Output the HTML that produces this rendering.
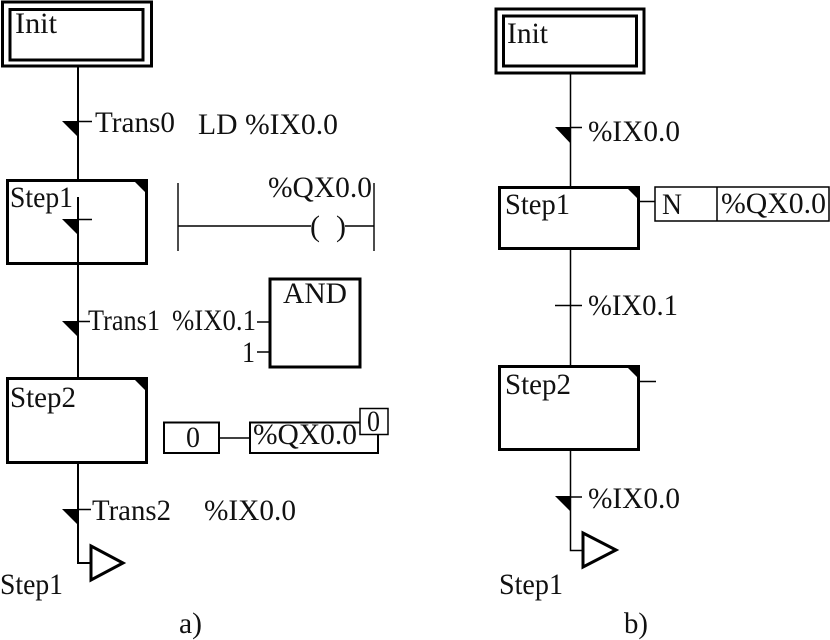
<!DOCTYPE html>
<html><head><meta charset="utf-8"><style>
html,body{margin:0;padding:0;background:#fff;width:830px;height:640px;overflow:hidden}
svg{display:block}
text{font-family:"Liberation Serif",serif;font-size:30px;fill:#111}
</style></head><body>
<svg width="830" height="640" viewBox="0 0 830 640" xmlns="http://www.w3.org/2000/svg">
<rect width="830" height="640" fill="#fff"/>
<g fill="none" stroke="#000">
<!-- LEFT -->
<rect x="2.5" y="2" width="149" height="64" stroke-width="3"/>
<rect x="10" y="9.5" width="133" height="50.5" stroke-width="3"/>
<path d="M78 67V180M78 197V378M78 462V563H91" stroke-width="2"/>
<path d="M78 121.500H92M78 219.500H92M78 321.500H90M78 509.500H91" stroke-width="1.500"/>
<rect x="7.500" y="180.500" width="139" height="83" stroke-width="3"/>
<rect x="7.500" y="378.500" width="139" height="84" stroke-width="3"/>
<path d="M178 183V251M374 183V251M178 226H311M345 226H374" stroke-width="1.400"/>
<rect x="270" y="279" width="90" height="88" stroke-width="3"/>
<path d="M257 322H270M257 352H270" stroke-width="1.500"/>
<rect x="164" y="422.500" width="55" height="30.500" stroke-width="2"/>
<path d="M219 438H250" stroke-width="1.500"/>
<rect x="250" y="422.500" width="128" height="30.500" stroke-width="2"/>
<rect x="360" y="408.500" width="28" height="26" fill="#fff" stroke-width="1.500"/>
<path d="M91 546L123 563L91 580Z" fill="#fff" stroke-width="3"/>
<!-- RIGHT -->
<rect x="496" y="9" width="148" height="64" stroke-width="3"/>
<rect x="503.500" y="16" width="133" height="50" stroke-width="3"/>
<path d="M570.500 73V187M570.500 248V366M570.500 450V550.500H583" stroke-width="1.500"/>
<path d="M570 127.500H582M555 305.500H582M570 497H582M639 201.500H655M639 381.500H656" stroke-width="1.500"/>
<rect x="499.500" y="187.500" width="139" height="61" stroke-width="3"/>
<rect x="499.500" y="366.500" width="139" height="83" stroke-width="3"/>
<rect x="655" y="187" width="174" height="34" stroke-width="1.500"/>
<path d="M717 187V221" stroke-width="1.500"/>
<path d="M583 533L616 550L583 567Z" fill="#fff" stroke-width="3"/>
</g>
<g fill="#000">
<path d="M62 121L78 121L78 137Z"/>
<path d="M62 219L78 219L78 235Z"/>
<path d="M62 321L78 321L78 337Z"/>
<path d="M62 509L78 509L78 525Z"/>
<path d="M133 180L148 180L148 195Z"/>
<path d="M133 378L148 378L148 393Z"/>
<path d="M555 127L571 127L571 144Z"/>
<path d="M555 496L571 496L571 512Z"/>
<path d="M625 186L640 186L640 201Z"/>
<path d="M625 365L640 365L640 380Z"/>
</g>
<g>
<text x="15" y="33" textLength="42" lengthAdjust="spacingAndGlyphs">Init</text>
<text x="95" y="132" textLength="80" lengthAdjust="spacingAndGlyphs">Trans0</text>
<text x="198" y="134" textLength="140" lengthAdjust="spacingAndGlyphs">LD %IX0.0</text>
<text x="268" y="197" textLength="104" lengthAdjust="spacingAndGlyphs">%QX0.0</text>
<text x="10" y="207" textLength="63" lengthAdjust="spacingAndGlyphs">Step1</text>
<text y="236"><tspan x="310">(</tspan><tspan x="336">)</tspan></text>
<text x="88" y="330" textLength="72" lengthAdjust="spacingAndGlyphs">Trans1</text>
<text x="172" y="330" textLength="84" lengthAdjust="spacingAndGlyphs">%IX0.1</text>
<text x="283" y="303" textLength="64" lengthAdjust="spacingAndGlyphs">AND</text>
<text x="242" y="362" textLength="13" lengthAdjust="spacingAndGlyphs">1</text>
<text x="10" y="407" textLength="66" lengthAdjust="spacingAndGlyphs">Step2</text>
<text x="186" y="447" textLength="14" lengthAdjust="spacingAndGlyphs">0</text>
<text x="253" y="444" textLength="104" lengthAdjust="spacingAndGlyphs">%QX0.0</text>
<text x="367" y="431" textLength="13" lengthAdjust="spacingAndGlyphs">0</text>
<text x="92" y="520" textLength="79" lengthAdjust="spacingAndGlyphs">Trans2</text>
<text x="204" y="520" textLength="92" lengthAdjust="spacingAndGlyphs">%IX0.0</text>
<text x="0" y="594" textLength="63" lengthAdjust="spacingAndGlyphs">Step1</text>
<text x="179" y="633" textLength="23" lengthAdjust="spacingAndGlyphs">a)</text>
<text x="507" y="43" textLength="41" lengthAdjust="spacingAndGlyphs">Init</text>
<text x="588" y="141" textLength="92" lengthAdjust="spacingAndGlyphs">%IX0.0</text>
<text x="505" y="214" textLength="65" lengthAdjust="spacingAndGlyphs">Step1</text>
<text x="662" y="214" textLength="20" lengthAdjust="spacingAndGlyphs">N</text>
<text x="721" y="213" textLength="105" lengthAdjust="spacingAndGlyphs">%QX0.0</text>
<text x="588" y="315" textLength="90" lengthAdjust="spacingAndGlyphs">%IX0.1</text>
<text x="505" y="394" textLength="66" lengthAdjust="spacingAndGlyphs">Step2</text>
<text x="588" y="508" textLength="92" lengthAdjust="spacingAndGlyphs">%IX0.0</text>
<text x="499" y="594" textLength="64" lengthAdjust="spacingAndGlyphs">Step1</text>
<text x="624" y="633" textLength="24" lengthAdjust="spacingAndGlyphs">b)</text>
</g>
</svg>
</body></html>
